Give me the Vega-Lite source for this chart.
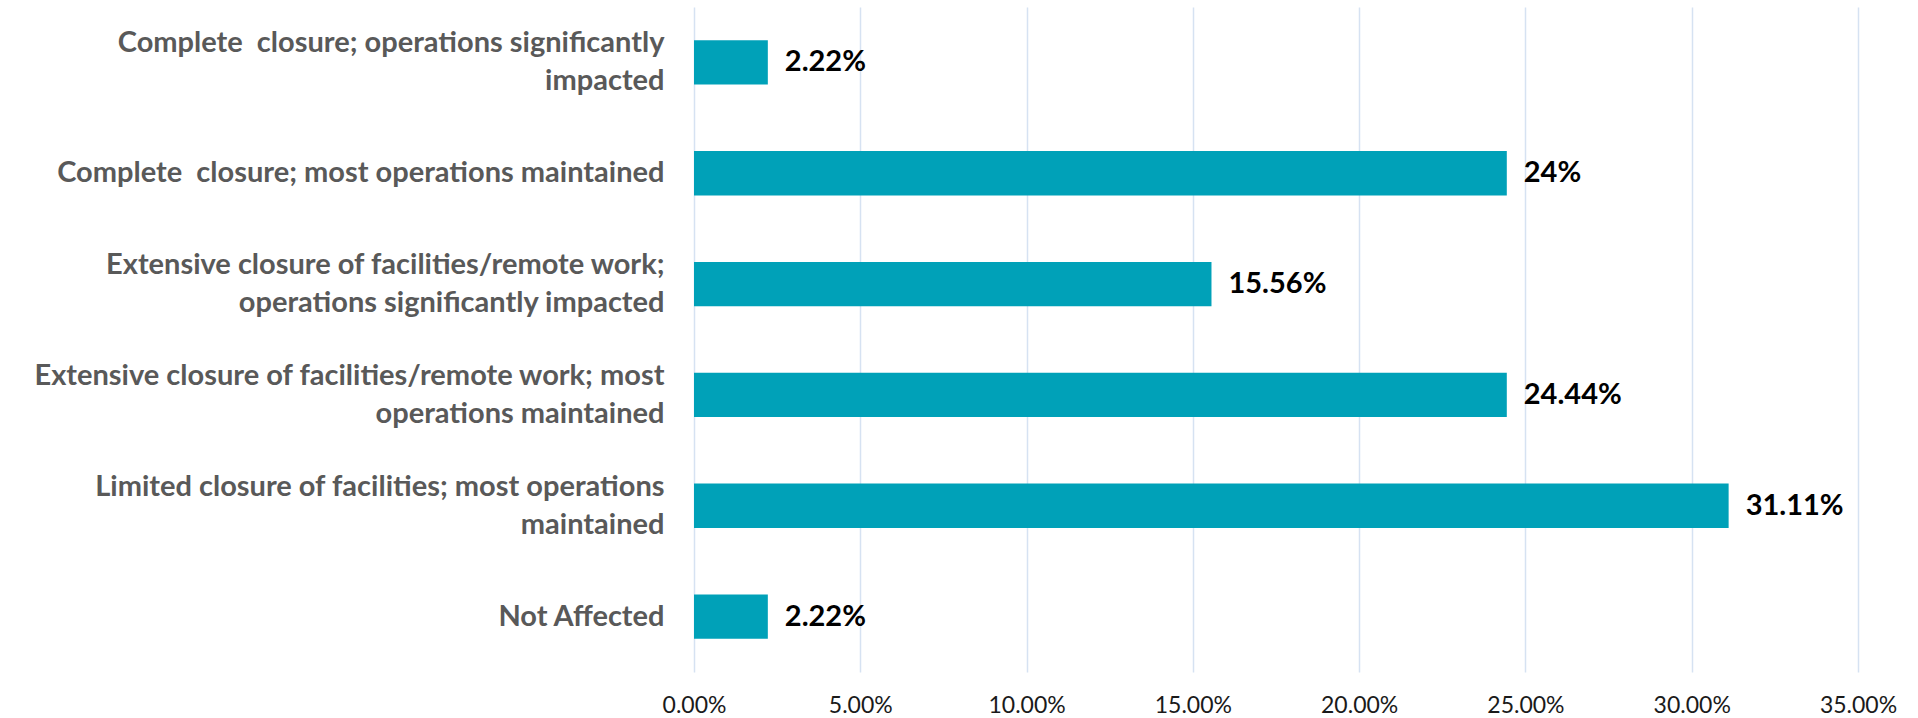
{
  "$schema": "https://vega.github.io/schema/vega-lite/v6.json",
  "width": 1164,
  "height": 665,
  "autosize": {"type": "none"},
  "padding": {"left": 694, "top": 7, "right": 60, "bottom": 46},
  "background": "white",
  "config": {"view": {"stroke": null}},
  "data": {
    "values": [
      {"category": "Complete\u00a0 closure; operations significantly|impacted", "value": 0.0222, "text": "2.22%"},
      {"category": "Complete\u00a0 closure; most operations maintained", "value": 0.2444, "text": "24%"},
      {"category": "Extensive closure of facilities/remote work;|operations significantly impacted", "value": 0.1556, "text": "15.56%"},
      {"category": "Extensive closure of facilities/remote work; most|operations maintained", "value": 0.2444, "text": "24.44%"},
      {"category": "Limited closure of facilities; most operations|maintained", "value": 0.3111, "text": "31.11%"},
      {"category": "Not Affected", "value": 0.0222, "text": "2.22%"}
    ]
  },
  "encoding": {
    "y": {
      "field": "category",
      "type": "nominal",
      "sort": null,
      "scale": {"paddingInner": 0.6, "paddingOuter": 0.3},
      "axis": {
        "title": null,
        "domain": false,
        "ticks": false,
        "labelPadding": 30,
        "labelAlign": "right",
        "labelBaseline": "middle",
        "labelFont": "Lato",
        "labelFontWeight": "bold",
        "labelFontSize": 29,
        "labelColor": "#595959",
        "labelLineHeight": 38,
        "labelLimit": 0,
        "labelOffset": {"condition": {"test": "indexof(datum.value, '|') >= 0", "value": -19}, "value": 0},
        "labelExpr": "split(datum.label, '|')"
      }
    },
    "x": {
      "field": "value",
      "type": "quantitative",
      "scale": {"domain": [0, 0.35], "nice": false},
      "axis": {
        "title": null,
        "format": ".2%",
        "values": [0, 0.05, 0.1, 0.15, 0.2, 0.25, 0.3, 0.35],
        "domain": false,
        "ticks": false,
        "grid": true,
        "gridColor": "#D6E2F2",
        "gridWidth": 1.5,
        "labelFont": "Lato",
        "labelFontSize": 23,
        "labelColor": "#1a1a1a",
        "labelBaseline": "middle",
        "labelPadding": 33,
        "labelFlush": false
      }
    }
  },
  "layer": [
    {"mark": {"type": "bar", "color": "#00A1B8"}},
    {
      "mark": {"type": "text", "align": "left", "baseline": "middle", "dx": 17, "font": "Lato", "fontWeight": "bold", "fontSize": 29, "color": "#000000"},
      "encoding": {"text": {"field": "text"}}
    }
  ]
}
